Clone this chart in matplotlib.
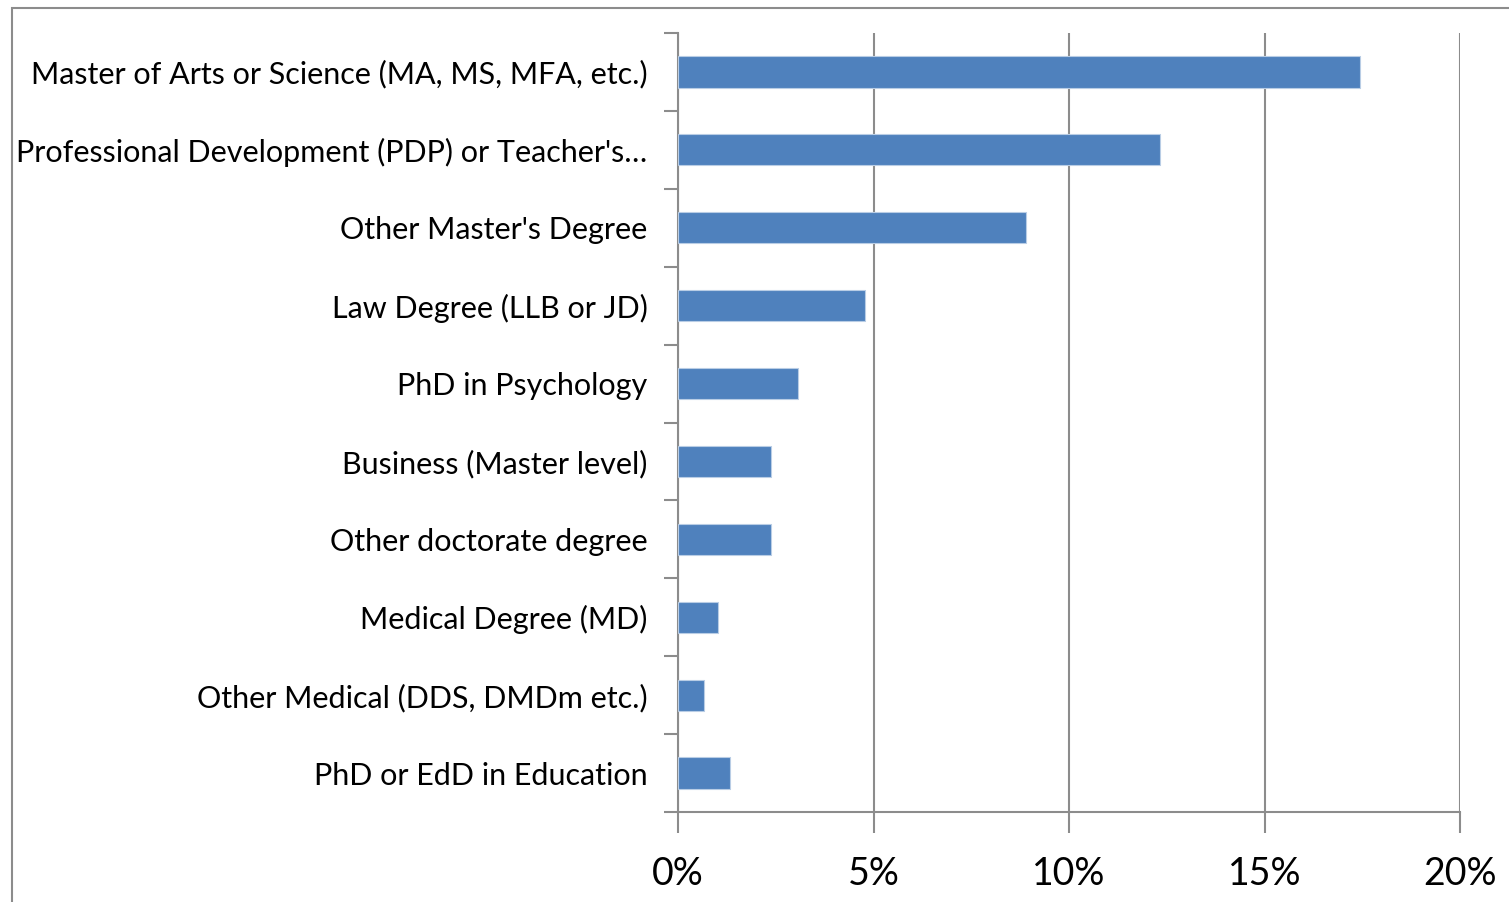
import matplotlib.pyplot as plt
import matplotlib.patches as patches
from matplotlib.ticker import FuncFormatter

# categories listed top to bottom, as in the chart
degrees = [
    "Master of Arts or Science (MA, MS, MFA, etc.)",
    "Professional Development (PDP) or Teacher's\u2026",
    "Other Master's Degree",
    "Law Degree (LLB or JD)",
    "PhD in Psychology",
    "Business (Master level)",
    "Other doctorate degree",
    "Medical Degree (MD)",
    "Other Medical (DDS, DMDm etc.)",
    "PhD or EdD in Education",
]
shares = [17.45, 12.33, 8.9, 4.78, 3.07, 2.38, 2.38, 1.02, 0.66, 1.33]
x_ticks = [0, 5, 10, 15, 20]

W, H = 1509, 902
fig = plt.figure(figsize=(W / 100, H / 100), dpi=100)
plt.rcParams['font.family'] = ['Lato', 'DejaVu Sans']

# axes box in pixel coords: left 678, right 1460, top 33, bottom 812
ax = fig.add_axes([678 / W, 1 - 812 / H, (1460 - 678) / W, (812 - 33) / H])

n = len(degrees)
pos = list(range(n))[::-1]
ax.barh(pos, shares, height=0.4, color='#4F81BD', edgecolor='#B9CDE5', lw=0.8, zorder=3)

ax.set_xlim(0, 20)
ax.set_ylim(-0.5, n - 0.5)
ax.set_xticks(x_ticks)
ax.xaxis.set_major_formatter(FuncFormatter(lambda v, p: '%d%%' % v))
ax.grid(axis='x', color='#8C8C8C', lw=1.5, zorder=0)

# categories as minor labels, boundaries as major ticks
ax.set_yticks([p - 0.5 for p in range(n + 1)])
ax.set_yticklabels([])
ax.set_yticks(pos, minor=True)
ax.set_yticklabels(degrees, minor=True, fontsize=22)
ax.tick_params(axis='y', which='minor', length=0, pad=22)
ax.tick_params(axis='y', which='major', length=10, width=1.5, color='#8C8C8C')
ax.tick_params(axis='x', length=15, width=1.5, color='#8C8C8C', labelsize=27, pad=17)

for s in ['top', 'right']:
    ax.spines[s].set_visible(False)
for s in ['left', 'bottom']:
    ax.spines[s].set_color('#8C8C8C')
    ax.spines[s].set_linewidth(1.5)

# outer chart border (runs off the right and bottom edges)
fig.patches.append(patches.Rectangle((12 / W, -0.1), 1.1, 1 - 8 / H + 0.1,
                                     transform=fig.transFigure, fill=False,
                                     edgecolor='#8C8C8C', lw=1.5))

fig.savefig('out.png', dpi=100)
